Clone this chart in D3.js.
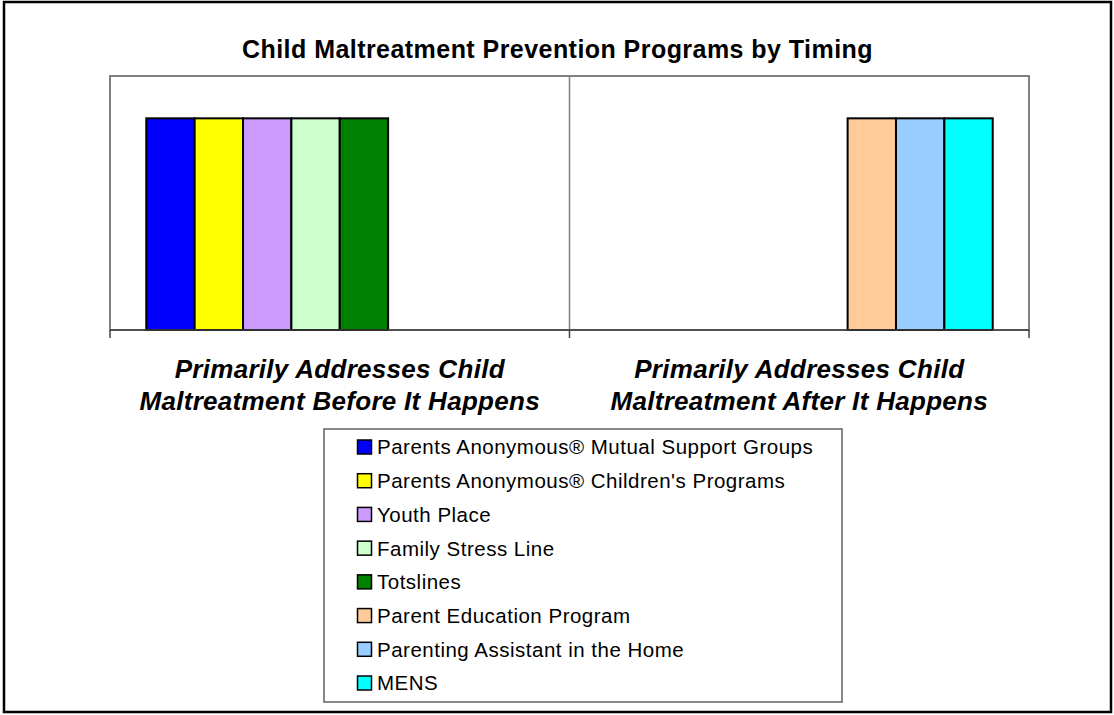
<!DOCTYPE html>
<html>
<head>
<meta charset="utf-8">
<script src="https://cdn.jsdelivr.net/npm/d3@7"></script>
<style>
	body { margin: 0; background: #fff; }
	svg { display: block; font-family: "Liberation Sans", Arial, sans-serif; }
</style>
</head>
<body>
<svg id="chart" width="1114" height="715"></svg>
<script>
const title = "Child Maltreatment Prevention Programs by Timing";
const categories = ["before", "after"];
const categoryLabels = [
	["Primarily Addresses Child", "Maltreatment Before It Happens"],
	["Primarily Addresses Child", "Maltreatment After It Happens"]
];
const seriesNames = [
	"Parents Anonymous\u00ae Mutual Support Groups",
	"Parents Anonymous\u00ae Children's Programs",
	"Youth Place",
	"Family Stress Line",
	"Totslines",
	"Parent Education Program",
	"Parenting Assistant in the Home",
	"MENS"
];
const seriesColors = ["#0000ff", "#ffff00", "#cc99ff", "#ccffcc", "#008000", "#ffcc99", "#99ccff", "#00ffff"];
// one value per category for each series (before, after)
const beforeValues = [1, 1, 1, 1, 1, 0, 0, 0];
const afterValues = [0, 0, 0, 0, 0, 1, 1, 1];
const yMax = 1.2;

const svg = d3.select("#chart");
const plot = { left: 110, top: 76, right: 1029, bottom: 330 };

// outer frame
svg.append("rect")
	.attr("x", 4).attr("y", 2)
	.attr("width", 1107).attr("height", 710)
	.attr("fill", "#fff").attr("stroke", "#000").attr("stroke-width", 2.5);

svg.append("text")
	.attr("x", 557.5).attr("y", 58)
	.attr("text-anchor", "middle")
	.attr("font-size", 25).attr("font-weight", "bold")
	.attr("letter-spacing", 0.45)
	.text(title);

const x0 = d3.scaleBand().domain(categories).range([plot.left, plot.right]).padding(0);
const bw = x0.bandwidth();
const gap = bw * 1.5 / 9.5;
const x1 = d3.scaleBand().domain(d3.range(seriesNames.length)).range([gap / 2, bw - gap / 2]).padding(0);
const y = d3.scaleLinear().domain([0, yMax]).range([plot.bottom, plot.top]);

// plot area
svg.append("rect")
	.attr("x", plot.left).attr("y", plot.top)
	.attr("width", plot.right - plot.left).attr("height", plot.bottom - plot.top)
	.attr("fill", "#fff").attr("stroke", "#808080").attr("stroke-width", 2);

// vertical gridlines at category boundaries
svg.append("g").selectAll("line")
	.data(categories.slice(1))
	.join("line")
	.attr("x1", d => x0(d)).attr("x2", d => x0(d))
	.attr("y1", plot.top).attr("y2", plot.bottom)
	.attr("stroke", "#808080").attr("stroke-width", 1.5);

const table = categories.map((c, i) => ({
	cat: c,
	values: seriesNames.map((s, j) => ({ idx: j, value: i === 0 ? beforeValues[j] : afterValues[j] }))
}));

svg.append("g").selectAll("g")
	.data(table)
	.join("g")
	.attr("transform", d => `translate(${x0(d.cat)},0)`)
	.selectAll("rect")
	.data(d => d.values.filter(v => v.value > 0))
	.join("rect")
	.attr("x", d => x1(d.idx))
	.attr("y", d => y(d.value))
	.attr("width", x1.bandwidth())
	.attr("height", d => y(0) - y(d.value))
	.attr("fill", d => seriesColors[d.idx])
	.attr("stroke", "#000").attr("stroke-width", 2);

// category axis
const xAxis = svg.append("g").attr("transform", `translate(0,${plot.bottom})`);
xAxis.append("line")
	.attr("x1", plot.left).attr("x2", plot.right)
	.attr("stroke", "#404040").attr("stroke-width", 1.5);
xAxis.selectAll("line.tick")
	.data([plot.left, ...categories.slice(1).map(c => x0(c)), plot.right])
	.join("line")
	.attr("class", "tick")
	.attr("x1", d => d).attr("x2", d => d)
	.attr("y1", 0).attr("y2", 8)
	.attr("stroke", "#404040").attr("stroke-width", 1.5);

svg.append("g").selectAll("text")
	.data(categories)
	.join("text")
	.attr("x", d => x0(d) + bw / 2)
	.attr("y", 378)
	.attr("text-anchor", "middle")
	.attr("font-size", 26).attr("font-weight", "bold").attr("font-style", "italic")
	.attr("letter-spacing", 0.3)
	.selectAll("tspan")
	.data((d, i) => categoryLabels[i])
	.join("tspan")
	.attr("x", function() { return this.parentNode.getAttribute("x"); })
	.attr("dy", (d, i) => i === 0 ? 0 : 32)
	.text(d => d);

// legend
const legend = svg.append("g");
legend.append("rect")
	.attr("x", 324).attr("y", 429)
	.attr("width", 518).attr("height", 273)
	.attr("fill", "#fff").attr("stroke", "#606060").attr("stroke-width", 1.5);

const rowY = d3.scalePoint().domain(d3.range(seriesNames.length)).range([447, 683]);
const items = legend.selectAll("g.item")
	.data(seriesNames)
	.join("g")
	.attr("class", "item")
	.attr("transform", (d, i) => `translate(357,${rowY(i)})`);
items.append("rect")
	.attr("x", 0.5).attr("y", -7)
	.attr("width", 14).attr("height", 14)
	.attr("fill", (d, i) => seriesColors[i])
	.attr("stroke", "#000").attr("stroke-width", 1.5);
items.append("text")
	.attr("x", 20).attr("y", 0)
	.attr("dy", "0.36em")
	.attr("font-size", 20.5)
	.attr("letter-spacing", 0.5)
	.text(d => d);
</script>
</body>
</html>
